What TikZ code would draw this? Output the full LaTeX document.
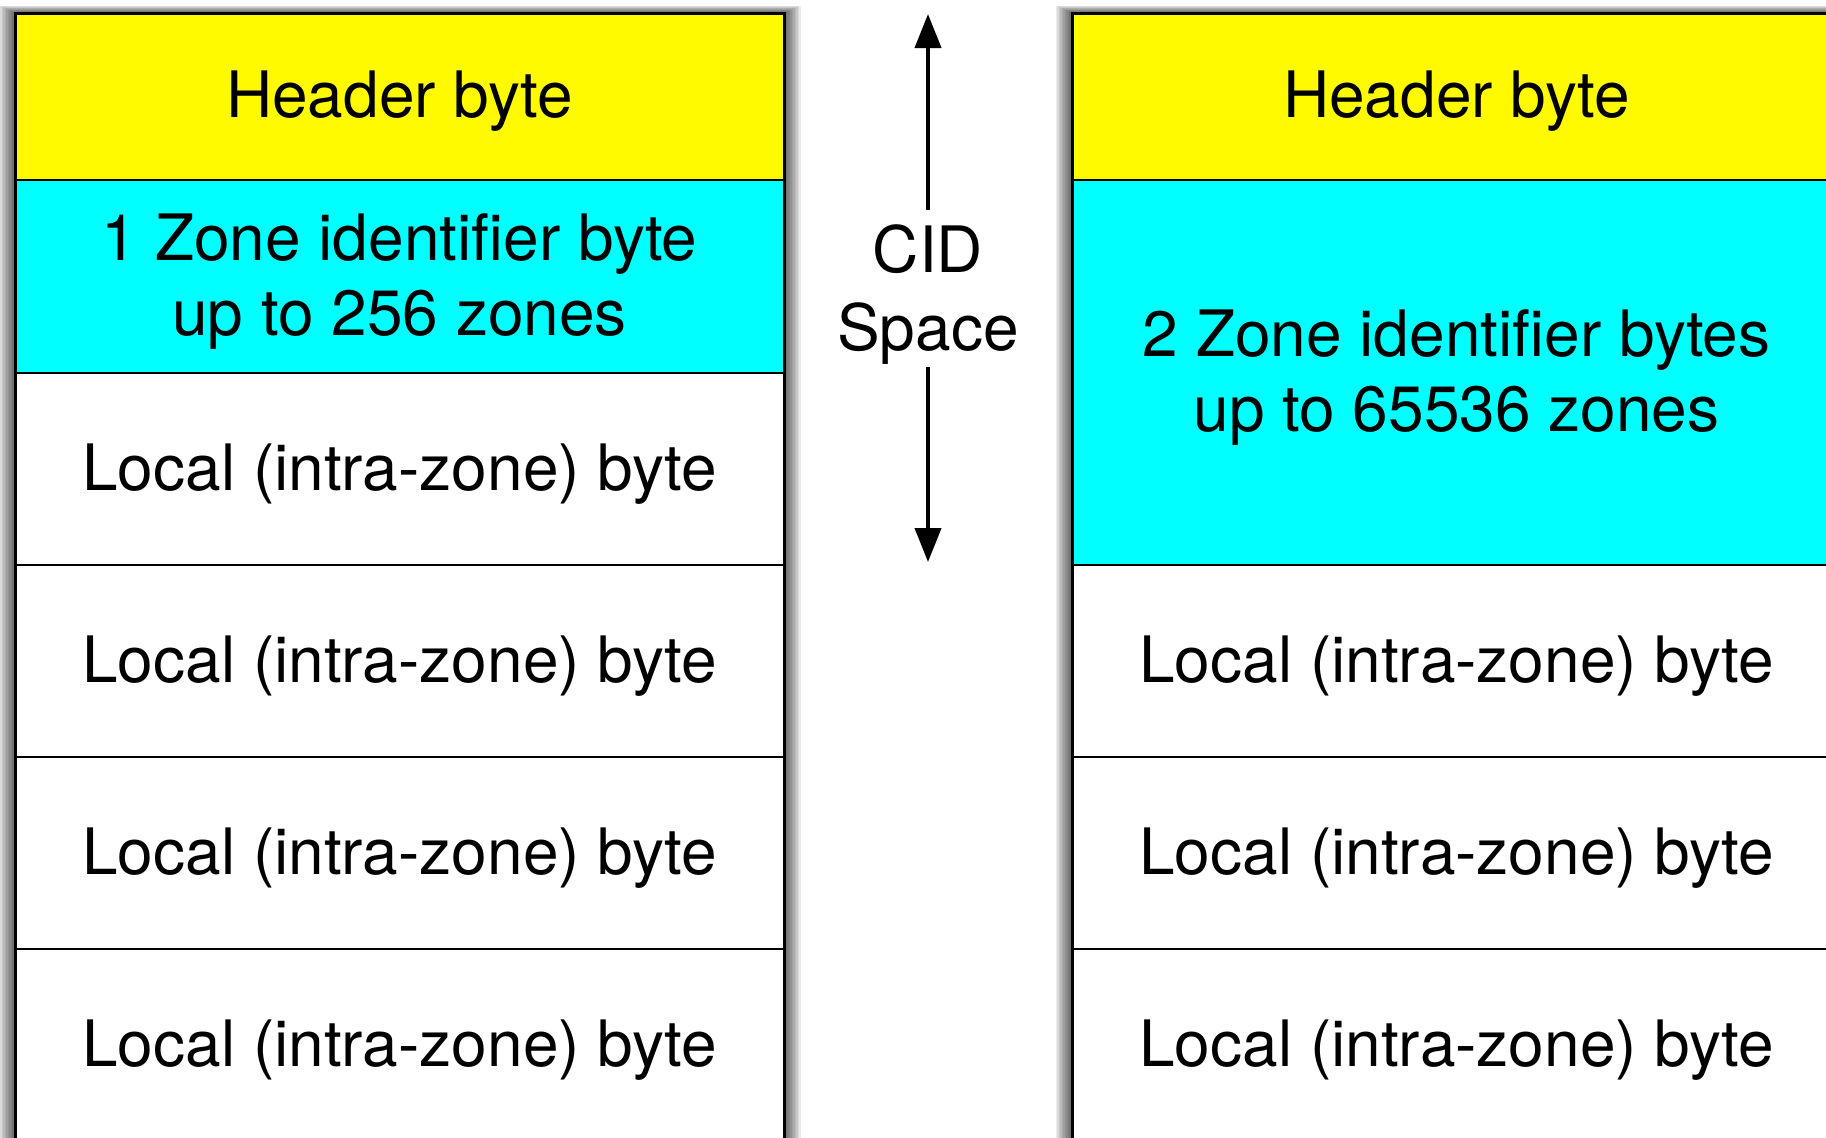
\documentclass[tikz,border=0pt]{standalone}
\usepackage{fontspec}
\setmainfont{TeX Gyre Heros}
\usetikzlibrary{arrows.meta}
\definecolor{hdr}{RGB}{255,250,0}
\definecolor{zone}{RGB}{0,255,255}
\begin{document}
\begin{tikzpicture}[x=0.5pt,y=-0.5pt,
  txt/.style={font=\fontsize{32}{37.5}\selectfont, align=center},
  cell/.style={draw=black, line width=1pt, rectangle, anchor=north west,
    minimum width=384.5pt, inner sep=0pt, outer sep=0pt,
    label={[txt, yshift=-2.5pt]center:#1}},
  hdrcell/.style={cell={#1}, fill=hdr, minimum height=83.5pt},
  zonecell/.style={cell={#1}, fill=zone},
  localcell/.style={cell={Local (intra-zone) byte}, fill=white, minimum height=96pt},
  shadowlayer/.style={fill=black, fill opacity=0.075},
  frame/.style={draw=black, line width=1.5pt},
  cidarrow/.style={draw=black, line width=2pt, -{Triangle[length=17pt,width=13pt]}}]
\useasboundingbox (0,0) rectangle (1826,1137);
\clip (0,0) rectangle (1826,1137);
\fill[white] (0,0) rectangle (1826,1137);
% shadows (layered soft edge)
\foreach \d in {1.5,3,...,16.5}{
  \path[shadowlayer] (15-\d,13-0.45*\d) rectangle (784+\d,1220);
  \path[shadowlayer] (1072-\d,13-0.45*\d) rectangle (1841+\d,1220);
}
% left column
\node[hdrcell={Header byte}] (l1) at (15,13) {};
\node[zonecell={1 Zone identifier byte\\up to 256 zones}, minimum height=96.5pt] (l2) at (15,180) {};
\node[localcell] (l3) at (15,373) {};
\node[localcell] (l4) at (15,565) {};
\node[localcell] (l5) at (15,757) {};
\node[localcell] (l6) at (15,949) {};
\draw[frame] (15,13) rectangle (784,1220);
% right column
\node[hdrcell={Header byte}] (r1) at (1072,13) {};
\node[zonecell={2 Zone identifier bytes\\up to 65536 zones}, minimum height=192.5pt] (r2) at (1072,180) {};
\node[localcell] (r3) at (1072,565) {};
\node[localcell] (r4) at (1072,757) {};
\node[localcell] (r5) at (1072,949) {};
\draw[frame] (1072,13) rectangle (1841,1220);
% CID space arrow
\coordinate (ctop) at (928,14);
\coordinate (cbot) at (928,562);
\node[minimum height=78.5pt, minimum width=80pt, inner sep=0pt,
  label={[txt, font=\fontsize{32}{39}\selectfont, yshift=-3pt]center:CID\\Space}] (cid) at (928,288.5) {};
\draw[cidarrow] (cid.north) -- (ctop);
\draw[cidarrow] (cid.south) -- (cbot);
\end{tikzpicture}
\end{document}
